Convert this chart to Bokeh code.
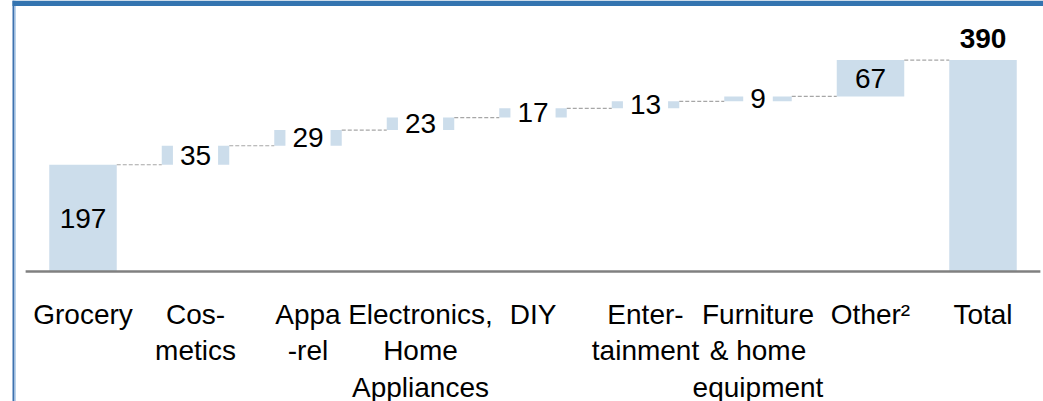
from bokeh.plotting import figure
from bokeh.models import Range1d, Span, BoxAnnotation, ColumnDataSource
from bokeh.core.properties import value
from bokeh.embed import file_html
from bokeh.resources import INLINE

# ---- data ----
categories = ["Grocery", "Cosmetics", "Apparel", "Electronics, Home Appliances",
              "DIY", "Entertainment", "Furniture & home equipment", "Other", "Total"]
tick_labels = ["Grocery", "Cos-\nmetics", "Appa\n-rel", "Electronics,\nHome\nAppliances",
               "DIY", "Enter-\ntainment", "Furniture\n& home\nequipment", "Other\u00b2", "Total"]
increments = [197, 35, 29, 23, 17, 13, 9, 67]
total = 390

# ---- geometry / scales ----
W, H = 1043, 401
step_px = 112.5          # pixels per category
first_px = 82.5          # centre of first category
base_px = 271.0          # y pixel of zero line
k = 0.542                # pixels per unit

x_start = -first_px / step_px
x_end = x_start + W / step_px
y_top = base_px / k
y_bot = -(H - base_px) / k

def px2x(px):
    return x_start + px / step_px

def px2y(py):
    return y_top - py / k

# waterfall computation
bottoms, tops = [], []
run = 0
for i, v in enumerate(increments):
    if i == 0:
        bottoms.append(0); tops.append(v)
    else:
        bottoms.append(run); tops.append(run + v)
    run += v
bottoms.append(0); tops.append(total)
xs = list(range(len(categories)))

FONT = "Liberation Sans"
BAR = "#CCDDEB"

p = figure(width=W, height=H, x_range=Range1d(x_start, x_end), y_range=Range1d(y_bot, y_top),
           output_backend="svg", toolbar_location=None, min_border=0,
           x_axis_location=None, y_axis_location=None)
p.grid.visible = False
p.outline_line_color = None
p.background_fill_color = "white"
p.border_fill_color = "white"

# bars
bar_src = ColumnDataSource(dict(x=xs, bottom=bottoms, top=tops))
p.vbar(x="x", bottom="bottom", top="top", width=0.6, source=bar_src,
       fill_color=BAR, line_color=None)

# connectors
bw = 0.3
cx0 = [x + bw for x in xs[:-1]]
cx1 = [x + 1 - bw for x in xs[:-1]]
cy = tops[:-1]
p.segment(x0=cx0, x1=cx1, y0=cy, y1=cy, line_color="#A6A6A6", line_width=1.2, line_dash="4 2")

# baseline
p.segment(x0=[xs[0] - 0.51], x1=[xs[-1] + 0.51], y0=[0], y1=[0], line_color="#808080", line_width=2.5)

# value labels
label_h_units = 30 / k
big_x, big_y, big_t = [], [], []
sm_x, sm_y, sm_t = [], [], []
for i, v in enumerate(increments):
    mid = (bottoms[i] + tops[i]) / 2
    if (tops[i] - bottoms[i]) < label_h_units:
        sm_x.append(i); sm_y.append(mid); sm_t.append(str(v))
    else:
        big_x.append(i); big_y.append(mid); big_t.append(str(v))

p.text(x=big_x, y=big_y, text=big_t, text_align="center", text_baseline="middle",
       text_font=value(FONT), text_font_size="28px", text_color="black")
p.text(x=sm_x, y=sm_y, text=sm_t, text_align="center", text_baseline="middle",
       text_font=value(FONT), text_font_size="28px", text_color="black",
       background_fill_color="white", padding=7)

# total label
p.text(x=[xs[-1]], y=[total + 22 / k], text=[str(total)], text_align="center",
       text_baseline="middle", text_font=value(FONT), text_font_size="28px",
       text_font_style="bold", text_color="black")

# category labels
cat_y = [-(27 / k)] * len(xs)
p.text(x=xs, y=cat_y, text=tick_labels, text_align="center", text_baseline="top",
       text_font=value(FONT), text_font_size="28px", text_color="black",
       text_line_height=1.18)

# frame decorations
p.add_layout(Span(location=px2x(13), dimension="height", line_color="#3E72AF", line_width=2))
p.add_layout(Span(location=px2x(14.8), dimension="height", line_color="#A9C8E8", line_width=1))
p.add_layout(BoxAnnotation(left=px2x(12), bottom=px2y(5.5), fill_color="#3474B0", fill_alpha=1.0,
                           line_color=None))

open("out.html", "w").write(file_html(p, INLINE))
